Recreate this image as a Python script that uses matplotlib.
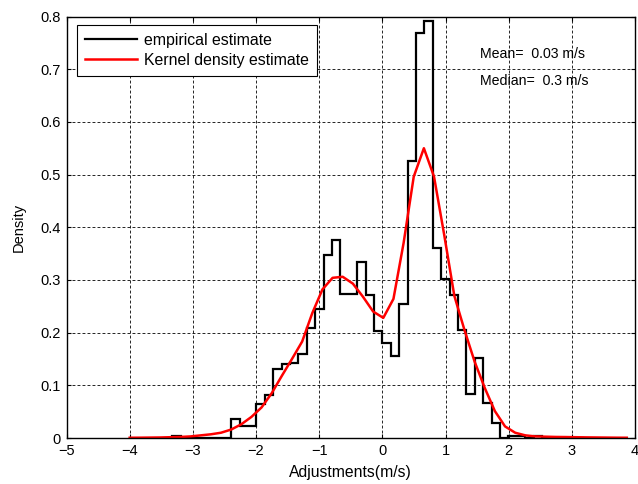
import matplotlib.pyplot as plt
import numpy as np

plt.rcParams['font.family'] = ['Liberation Sans', 'DejaVu Sans']
plt.rcParams['font.size'] = 10

# empirical histogram (density), uniform bins
bin_start = -3.325
bin_width = 0.133
emp_density = [0.004,
               0, 0, 0, 0, 0, 0,
               0.037, 0.023, 0.023, 0.064, 0.082, 0.131, 0.140, 0.143, 0.159, 0.209,
               0.245, 0.348, 0.376, 0.274, 0.274, 0.334, 0.271, 0.203, 0.181, 0.155,
               0.254, 0.525, 0.768, 0.792, 0.360, 0.302, 0.272, 0.205, 0.084, 0.152,
               0.067, 0.028, 0, 0.004, 0.004, 0, 0.004, 0, 0, 0, 0, 0]

# kernel density estimate on 50 points from -4 to 3.87
kde_x_min, kde_x_max = -4.0, 3.87
kde_density = [0.0005, 0.0006, 0.0008, 0.001, 0.0015, 0.002, 0.003, 0.005, 0.007, 0.010,
               0.016, 0.026, 0.040, 0.058, 0.085, 0.118, 0.150, 0.183, 0.237, 0.282,
               0.304, 0.306, 0.293, 0.268, 0.240, 0.228, 0.264, 0.37, 0.496, 0.550,
               0.496, 0.386, 0.27, 0.205, 0.145, 0.095, 0.051, 0.022, 0.010, 0.005,
               0.003, 0.0025, 0.002, 0.0018, 0.0015, 0.0012, 0.001, 0.0008, 0.0006, 0.0005]

xticks = [-5, -4, -3, -2, -1, 0, 1, 2, 3, 4]
yticks = [0, 0.1, 0.2, 0.3, 0.4, 0.5, 0.6, 0.7, 0.8]
ytick_labels = ['0', '0.1', '0.2', '0.3', '0.4', '0.5', '0.6', '0.7', '0.8']

edges = bin_start + bin_width * np.arange(len(emp_density) + 1)
kde_x = np.linspace(kde_x_min, kde_x_max, len(kde_density))

fig = plt.figure(figsize=(6.38, 4.84), dpi=100)
ax = fig.add_axes([66.5 / 638, 46 / 484, 568.5 / 638, 421.5 / 484])

ax.stairs(emp_density, edges, color='k', linewidth=1.6, label='empirical estimate')
ax.plot(kde_x, kde_density, color='red', linewidth=1.8, label='Kernel density estimate')

ax.set_xlim(-5, 4)
ax.set_ylim(0, 0.8)
ax.set_xticks(xticks)
ax.set_yticks(yticks)
ax.set_yticklabels(ytick_labels)
ax.grid(True, color='k', linestyle=(0, (3.5, 2.5)), linewidth=0.6)
ax.tick_params(direction='in', top=True, right=True, length=3, pad=4, labelsize=10.5)
for s in ax.spines.values():
    s.set_linewidth(1.0)

ax.set_xlabel('Adjustments(m/s)', labelpad=5, fontsize=11.3)
ax.set_ylabel('Density', labelpad=11, fontsize=10.5)

ax.text(1.55, 0.728, 'Mean=  0.03 m/s', va='center', ha='left', fontsize=10.2)
ax.text(1.55, 0.677, 'Median=  0.3 m/s', va='center', ha='left', fontsize=10.2)

leg = ax.legend(loc='upper left', bbox_to_anchor=(0.018, 0.98), borderaxespad=0,
                fancybox=False, edgecolor='k', framealpha=1, handlelength=3.3,
                handletextpad=0.45, borderpad=0.5, labelspacing=0.3, fontsize=11.4)
leg.get_frame().set_linewidth(0.8)

fig.savefig('out.png', dpi=100)
